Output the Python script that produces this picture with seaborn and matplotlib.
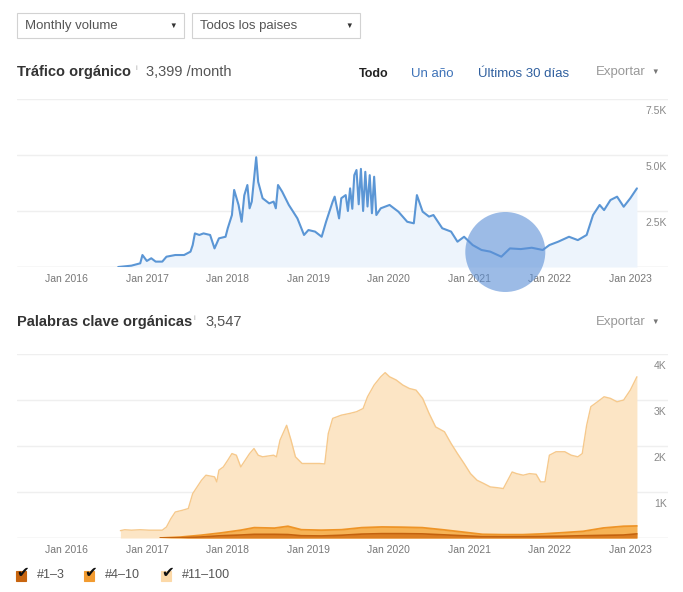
import matplotlib.pyplot as plt
import matplotlib.dates as mdates
import matplotlib.patches as patches
import matplotlib.transforms as mtransforms
import seaborn as sns
import pandas as pd

# --- organic traffic (monthly volume) ---
traffic_dates = [
    "2016-08-22", "2016-10-21", "2016-11-30", "2016-12-10", "2016-12-30", "2017-01-19",
    "2017-02-08", "2017-03-10", "2017-03-29", "2017-05-08", "2017-06-17", "2017-07-16",
    "2017-07-26", "2017-08-05", "2017-08-25", "2017-09-13", "2017-10-13", "2017-11-02",
    "2017-11-22", "2017-12-22", "2018-01-01", "2018-01-20", "2018-01-30", "2018-02-19",
    "2018-03-05", "2018-03-17", "2018-03-31", "2018-04-10", "2018-04-20", "2018-05-10",
    "2018-05-19", "2018-06-08", "2018-07-08", "2018-07-28", "2018-08-07", "2018-08-17",
    "2018-09-05", "2018-10-05", "2018-11-13", "2018-12-13", "2019-01-02", "2019-02-01",
    "2019-03-03", "2019-03-23", "2019-04-22", "2019-05-01", "2019-05-21", "2019-05-31",
    "2019-06-20", "2019-06-30", "2019-07-10", "2019-07-20", "2019-07-29", "2019-08-08",
    "2019-08-18", "2019-08-28", "2019-09-07", "2019-09-17", "2019-09-27", "2019-10-07",
    "2019-10-17", "2019-10-27", "2019-11-06", "2019-11-26", "2020-01-05", "2020-02-14",
    "2020-03-25", "2020-04-24", "2020-05-08", "2020-06-03", "2020-07-02", "2020-07-22",
    "2020-08-31", "2020-10-10", "2020-11-08", "2020-12-08", "2021-01-16", "2021-02-25",
    "2021-04-06", "2021-05-26", "2021-07-04", "2021-08-22", "2021-10-11", "2021-11-30",
    "2021-12-30", "2022-02-08", "2022-03-29", "2022-05-08", "2022-06-17", "2022-07-16",
    "2022-08-15", "2022-09-04", "2022-10-03", "2022-11-02", "2022-12-02", "2023-01-01",
    "2023-01-31",
]
traffic_values = [
    0, 60, 165, 535, 270, 390,
    240, 240, 460, 535, 535, 685,
    980, 1500, 1430, 1500, 1430, 830,
    1280, 1350, 1730, 2320, 3440, 2770,
    2020, 3200, 3660, 2620, 2920, 4900,
    3800, 3070, 2840, 2920, 2620, 3660,
    3360, 2770, 2170, 1430, 1650, 1580,
    1350, 2020, 2920, 3140, 2170, 3070,
    3210, 2500, 3510, 2600, 4100, 4330,
    2800, 4380, 2500, 4250, 2700, 4100,
    2400, 4030, 2320, 2620, 2770, 2470,
    2020, 1950, 3210, 2470, 2250, 2320,
    1730, 1580, 1130, 1350, 980, 760,
    685, 460, 830, 800, 860, 760,
    980, 1130, 1350, 1200, 1430, 2320,
    2770, 2540, 2990, 3140, 2690, 3070,
    3510,
]

# --- organic keywords, top 100 (total) ---
kw_dates = [
    "2016-09-01", "2016-09-21", "2016-10-21", "2016-11-30", "2017-01-09", "2017-03-10",
    "2017-03-29", "2017-04-18", "2017-05-08", "2017-06-07", "2017-07-06", "2017-07-26",
    "2017-08-15", "2017-09-04", "2017-09-24", "2017-11-02", "2017-11-12", "2017-11-22",
    "2017-12-12", "2018-01-01", "2018-01-20", "2018-02-09", "2018-03-01", "2018-03-21",
    "2018-04-10", "2018-04-30", "2018-05-19", "2018-06-08", "2018-07-28", "2018-08-10",
    "2018-08-26", "2018-09-25", "2018-10-15", "2018-11-04", "2018-12-04", "2019-02-21",
    "2019-03-17", "2019-04-02", "2019-04-22", "2019-05-31", "2019-07-10", "2019-08-08",
    "2019-09-07", "2019-09-27", "2019-10-27", "2019-11-26", "2019-12-16", "2020-01-05",
    "2020-02-04", "2020-03-05", "2020-04-04", "2020-05-04", "2020-06-03", "2020-07-02",
    "2020-08-01", "2020-09-10", "2020-10-10", "2020-11-08", "2020-12-08", "2021-01-06",
    "2021-02-05", "2021-03-07", "2021-04-06", "2021-05-05", "2021-06-04", "2021-06-24",
    "2021-07-14", "2021-08-03", "2021-09-02", "2021-10-01", "2021-10-31", "2021-11-20",
    "2021-12-10", "2021-12-30", "2022-01-29", "2022-03-10", "2022-04-08", "2022-05-08",
    "2022-05-28", "2022-06-17", "2022-07-06", "2022-08-05", "2022-09-04", "2022-10-03",
    "2022-11-02", "2022-12-02", "2023-01-01", "2023-01-31",
]
kw_top100 = [
    160, 180, 170, 180, 170, 170,
    240, 420, 565, 600, 640, 965,
    1110, 1255, 1365, 1330, 1220, 1475,
    1545, 1690, 1835, 1800, 1545, 1690,
    1835, 1945, 1800, 1765, 1800, 1765,
    2127, 2450, 2127, 1765, 1620, 1620,
    1610, 2270, 2600, 2670, 2710, 2745,
    2815, 3070, 3325, 3505, 3595, 3505,
    3435, 3325, 3250, 3215, 3035, 2710,
    2415, 2310, 2055, 1835, 1620, 1400,
    1255, 1185, 1110, 1095, 1075, 1255,
    1435, 1400, 1365, 1400, 1385, 1220,
    1220, 1800, 1875, 1875, 1800, 1765,
    1835, 2450, 2855, 2960, 3070, 3035,
    2960, 3000, 3215, 3505,
]

# --- top 10 / top 3 positions (cumulative) ---
band_dates = [
    "2017-03-01", "2017-06-01", "2017-09-01", "2017-12-01", "2018-03-01", "2018-05-01",
    "2018-08-01", "2018-10-01", "2018-12-01", "2019-03-01", "2019-06-01", "2019-09-01",
    "2019-12-01", "2020-03-01", "2020-06-01", "2020-09-01", "2020-12-01", "2021-03-01",
    "2021-06-01", "2021-09-01", "2021-12-01", "2022-03-01", "2022-06-01", "2022-09-01",
    "2022-12-01", "2023-01-31",
]
kw_top10 = [
    0, 20, 60, 110, 170, 225,
    215, 255, 180, 170, 180, 225,
    240, 235, 225, 180, 130, 80,
    73, 73, 90, 116, 145, 218,
    255, 262,
]
kw_top3 = [
    0, 5, 22, 50, 65, 80,
    80, 75, 50, 45, 60, 85,
    95, 95, 90, 70, 50, 30,
    28, 30, 35, 40, 50, 58,
    65, 90,
]

traffic_ticks = [0, 2500, 5000, 7500]
traffic_tick_labels = ["", "2.5K", "5.0K", "7.5K"]
kw_ticks = [0, 1000, 2000, 3000, 4000]
kw_tick_labels = ["", "1K", "2K", "3K", "4K"]
legend_labels = ["#1–3", "#4–10", "#11–100"]
legend_colors = ["#c8650f", "#f29b30", "#fcd9a8"]

# highlight circle on the traffic chart
circle_date = "2021-06-13"
circle_value = 670

W, H = 683, 592
XMIN, XMAX = pd.Timestamp("2015-05-21"), pd.Timestamp("2023-06-21")


def px(x, y):
    return x / W, 1 - y / H


def style_axis(ax, ticks, labels):
    ax.set_ylim(ticks[0], ticks[-1])
    ax.set_xlim(XMIN, XMAX)
    for s in ax.spines.values():
        s.set_visible(False)
    ax.set_yticks([])
    ax.set(xlabel=None, ylabel=None)
    ax.grid(False)
    for t, lab in zip(ticks, labels):
        ax.axhline(t, color="#d9d9d9" if t == 0 else "#efefef", lw=1, zorder=0.5)
        if lab:
            ax.annotate(lab, xy=(1, t), xycoords=ax.get_yaxis_transform(),
                        xytext=(-1, -5), textcoords="offset points",
                        ha="right", va="top", fontsize=7.5, color="#888888")
    ax.xaxis.set_major_locator(mdates.YearLocator(month=1, day=1))
    ax.xaxis.set_major_formatter(mdates.DateFormatter("%b %Y"))
    ax.tick_params(axis="x", length=0, pad=5, labelsize=7.5, labelcolor="#777777")


def text(x, y, s, **kw):
    kw.setdefault("va", "center")
    kw.setdefault("ha", "left")
    fig.text(*px(x, y), s, **kw)


def dropdown(x0, x1, label):
    fig.add_artist(patches.Rectangle(px(x0, 38), (x1 - x0) / W, 25 / H, transform=fig.transFigure,
                                     facecolor="white", edgecolor="#d2d2d2", lw=0.8))
    text(x0 + 8, 26, label, fontsize=9.5, color="#555555")
    text(x1 - 11, 26, "▼", fontsize=5.5, color="#333333", ha="center")


def header(y, title, title_end, value):
    text(17, y, title, fontsize=10.5, fontweight="bold", color="#333333")
    text(title_end + 2, y - 4, "i", fontsize=5.5, color="#aaaaaa")
    text(title_end + 13, y, value, fontsize=10.5, color="#555555")
    text(596, y, "Exportar", fontsize=9.5, color="#999999")
    text(655, y, "▼", fontsize=5.5, color="#777777", ha="center")


sns.set_style("white")
plt.rcParams["font.family"] = ["Liberation Sans", "DejaVu Sans"]

fig = plt.figure(figsize=(W / 100, H / 100), dpi=100)
ax1 = fig.add_axes([17 / W, 325 / H, 651 / W, 168 / H])
ax2 = fig.add_axes([17 / W, 54 / H, 651 / W, 184 / H])

# traffic chart
t_df = pd.DataFrame({"date": pd.to_datetime(traffic_dates), "traffic": traffic_values})
ax1.fill_between(t_df["date"], t_df["traffic"], color="#edf4fc", lw=0, zorder=1)
sns.lineplot(data=t_df, x="date", y="traffic", ax=ax1, color="#5b96d5", linewidth=1.5, zorder=3)
style_axis(ax1, traffic_ticks, traffic_tick_labels)

# keywords chart
k_df = pd.DataFrame({"date": pd.to_datetime(kw_dates), "top100": kw_top100})
b_df = pd.DataFrame({"date": pd.to_datetime(band_dates), "top10": kw_top10, "top3": kw_top3})
ax2.fill_between(k_df["date"], k_df["top100"], color="#fce5c5", lw=0, zorder=1)
sns.lineplot(data=k_df, x="date", y="top100", ax=ax2, color="#f6c98c", linewidth=1.0, zorder=2)
ax2.fill_between(b_df["date"], b_df["top10"], color="#f6b356", lw=0, zorder=3)
sns.lineplot(data=b_df, x="date", y="top10", ax=ax2, color="#ee9427", linewidth=1.3, zorder=4)
ax2.fill_between(b_df["date"], b_df["top3"], color="#dc7e22", lw=0, zorder=5)
sns.lineplot(data=b_df, x="date", y="top3", ax=ax2, color="#c4620e", linewidth=1.2, zorder=6)
style_axis(ax2, kw_ticks, kw_tick_labels)

# highlight circle anchored to the data
cx, cy = ax1.transData.transform((mdates.date2num(pd.Timestamp(circle_date)), circle_value))
fig.add_artist(patches.Circle((cx, cy), 40, transform=mtransforms.IdentityTransform(),
                              facecolor="#5b8fd6", alpha=0.6, lw=0, zorder=10))

# controls and headers
dropdown(17, 184, "Monthly volume")
dropdown(192, 360, "Todos los paises")
header(72, "Tráfico orgánico", 133, "3,399 /month")
text(359, 74, "Todo", fontsize=9, fontweight="bold", color="#222222")
text(411, 74, "Un año", fontsize=9.5, color="#3d72b8")
text(478, 74, "Últimos 30 días", fontsize=9.5, color="#2f5f9e")
header(322, "Palabras clave orgánicas", 192, "3,547")

# legend
for i, (lab, col) in enumerate(zip(legend_labels, legend_colors)):
    x0 = [16, 84, 161][i]
    fig.add_artist(patches.Rectangle(px(x0, 581), 10 / W, 10 / H, transform=fig.transFigure,
                                     facecolor=col, edgecolor=col, lw=0.8))
    text(x0 + 7, 573, "✔", fontsize=11, color="#111111", ha="center", family=["DejaVu Sans"])
    text(x0 + 21, 575, lab, fontsize=9, color="#555555")

fig.savefig("out.png", dpi=100, facecolor="white")
